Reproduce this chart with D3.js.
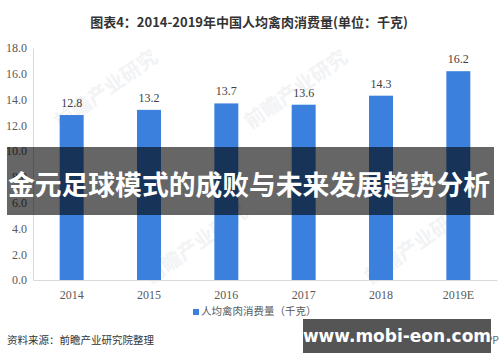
<!DOCTYPE html>
<html lang="zh">
<head>
<meta charset="utf-8">
<title>中国人均禽肉消费量</title>
<script src="https://cdn.jsdelivr.net/npm/d3@7"></script>
<style>
body { margin: 0; background: #fff; }
svg { display: block; }
.tick text { font-family: "Liberation Serif", serif; font-size: 12px; fill: #595959; }
</style>
</head>
<body>
<script>
// data
var years = ['2014', '2015', '2016', '2017', '2018', '2019E'];
var values = [12.8, 13.2, 13.7, 13.6, 14.3, 16.2];
var yTicks = [0, 2, 4, 6, 8, 10, 12, 14, 16, 18];

var w = 500, h = 362;
var margin = { top: 48, right: 3, bottom: 82, left: 33 };

var svg = d3.select('body').append('svg')
    .attr('width', w)
    .attr('height', h);

// title
svg.append('text')
    .attr('x', 249).attr('y', 27)
    .attr('text-anchor', 'middle')
    .style('font-family', '"Noto Sans CJK SC", sans-serif')
    .style('font-size', '13px')
    .style('font-weight', 'bold')
    .style('fill', '#333')
    .text('图表4：2014-2019年中国人均禽肉消费量(单位：千克)');

var x = d3.scaleBand()
    .domain(years)
    .range([margin.left, w - margin.right])
    .paddingInner(0.69)
    .paddingOuter(0.345);

var y = d3.scaleLinear()
    .domain([0, 18])
    .range([h - margin.bottom, margin.top]);

// faint watermarks
var wm = [[110, 95], [300, 95], [200, 250], [420, 250]];
svg.selectAll('.wm')
    .data(wm)
    .enter().append('text')
    .attr('class', 'wm')
    .attr('transform', function(d) { return 'translate(' + d[0] + ',' + d[1] + ') rotate(-35)'; })
    .attr('text-anchor', 'middle')
    .style('font-family', '"Noto Sans CJK SC", sans-serif')
    .style('font-size', '20px')
    .style('font-weight', 'bold')
    .style('fill', '#f2f3f5')
    .text('前瞻产业研究');

// axes
var yAxis = d3.axisLeft(y)
    .tickValues(yTicks)
    .tickFormat(d3.format('.1f'))
    .tickSize(0)
    .tickPadding(6);

svg.append('g')
    .attr('transform', 'translate(' + margin.left + ',0)')
    .call(yAxis)
    .call(function(g) { g.select('.domain').attr('stroke', '#d9d9d9'); });

var xAxis = d3.axisBottom(x).tickSize(0).tickPadding(10);

svg.append('g')
    .attr('transform', 'translate(0,' + (h - margin.bottom) + ')')
    .call(xAxis)
    .call(function(g) { g.select('.domain').attr('stroke', '#d9d9d9'); });

// bars
svg.selectAll('.bar')
    .data(values)
    .enter().append('rect')
    .attr('class', 'bar')
    .attr('x', function(d, i) { return x(years[i]); })
    .attr('y', function(d) { return y(d); })
    .attr('width', x.bandwidth())
    .attr('height', function(d) { return y(0) - y(d); })
    .attr('fill', '#3b80dc');

svg.selectAll('.val')
    .data(values)
    .enter().append('text')
    .attr('class', 'val')
    .attr('x', function(d, i) { return x(years[i]) + x.bandwidth() / 2; })
    .attr('y', function(d) { return y(d) - 8; })
    .attr('text-anchor', 'middle')
    .style('font-family', '"Liberation Serif", serif')
    .style('font-size', '12px')
    .style('fill', '#404040')
    .text(function(d) { return d.toFixed(1); });

// legend
var lg = svg.append('g').attr('transform', 'translate(193,315)');
lg.append('rect').attr('x', 0).attr('y', -6).attr('width', 6).attr('height', 6).attr('fill', '#3b80dc');
lg.append('text')
    .attr('x', 8).attr('y', 0)
    .style('font-family', '"Noto Sans CJK SC", sans-serif')
    .style('font-size', '10.5px')
    .style('fill', '#595959')
    .text('人均禽肉消费量（千克）');

// source
svg.append('text')
    .attr('x', 7).attr('y', 344)
    .style('font-family', '"Noto Sans CJK SC", sans-serif')
    .style('font-size', '10.5px')
    .style('fill', '#333')
    .text('资料来源：前瞻产业研究院整理');

svg.append('text')
    .attr('x', 499).attr('y', 344)
    .attr('text-anchor', 'end')
    .style('font-family', '"Noto Sans CJK SC", sans-serif')
    .style('font-size', '10.5px')
    .style('fill', '#666')
    .text('@前瞻经济学人APP');

// overlay band
svg.append('rect')
    .attr('x', 7).attr('y', 147)
    .attr('width', 487).attr('height', 68)
    .attr('fill', '#000').attr('fill-opacity', 0.6);

svg.append('text')
    .attr('x', 249).attr('y', 195)
    .attr('text-anchor', 'middle')
    .attr('textLength', 482)
    .attr('lengthAdjust', 'spacingAndGlyphs')
    .style('font-family', '"Noto Sans CJK SC", sans-serif')
    .style('font-size', '27px')
    .style('font-weight', 'bold')
    .style('fill', '#fff')
    .text('金元足球模式的成败与未来发展趋势分析');

// site box
svg.append('rect')
    .attr('x', 303).attr('y', 319)
    .attr('width', 188).attr('height', 34)
    .attr('fill', '#555');

svg.append('text')
    .attr('x', 397).attr('y', 342)
    .attr('text-anchor', 'middle')
    .style('font-family', '"DejaVu Sans", sans-serif')
    .style('font-size', '17px')
    .style('font-weight', 'bold')
    .style('fill', '#fff')
    .text('www.mobi-eon.com');
</script>
</body>
</html>
